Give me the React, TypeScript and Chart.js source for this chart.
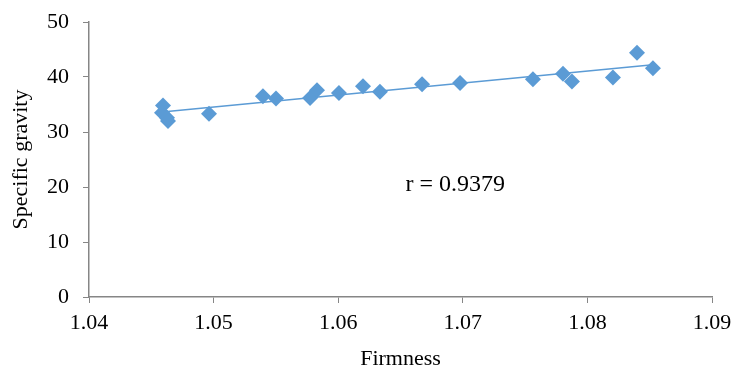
import React, { useEffect, useRef } from "react";
import { Chart, registerables } from "chart.js";

Chart.register(...registerables);

const firmness = [
  1.04594, 1.04586, 1.04626, 1.04634, 1.04963, 1.05396, 1.05501, 1.05774,
  1.0583, 1.06006, 1.06199, 1.06335, 1.06673, 1.06978, 1.07563, 1.07804,
  1.07876, 1.08205, 1.08398, 1.08526,
];
const specificGravity = [
  34.8, 33.5, 32.6, 32.0, 33.3, 36.5, 36.1, 36.2, 37.6, 37.1, 38.3, 37.3, 38.7,
  38.9, 39.6, 40.6, 39.2, 39.9, 44.4, 41.6,
];
const xTicks = [1.04, 1.05, 1.06, 1.07, 1.08, 1.09];
const yTicks = [0, 10, 20, 30, 40, 50];
const rLabel = "r = 0.9379";
const rLabelAt = { x: 1.0694, y: 20.4 };

const BLUE = "#5B9BD5";
const AXIS = "#868686";
const FONT = "'Liberation Serif', 'Times New Roman', serif";

function regression(xs: number[], ys: number[]) {
  const n = xs.length;
  const mx = xs.reduce((a, b) => a + b, 0) / n;
  const my = ys.reduce((a, b) => a + b, 0) / n;
  let sxy = 0;
  let sxx = 0;
  for (let i = 0; i < n; i++) {
    sxy += (xs[i] - mx) * (ys[i] - my);
    sxx += (xs[i] - mx) * (xs[i] - mx);
  }
  const b = sxy / sxx;
  return { a: my - b * mx, b };
}

export default function App() {
  const ref = useRef<HTMLCanvasElement>(null);
  useEffect(() => {
    document.body.style.margin = "0";
    const points = firmness.map((x, i) => ({ x, y: specificGravity[i] }));
    const { a, b } = regression(firmness, specificGravity);
    const minX = Math.min(...firmness);
    const maxX = Math.max(...firmness);
    const trend = [
      { x: minX, y: a + b * minX },
      { x: maxX, y: a + b * maxX },
    ];
    const textPlugin = {
      id: "rtext",
      afterDatasetsDraw(chart: any) {
        const ctx = chart.ctx;
        ctx.save();
        ctx.font = `24px ${FONT}`;
        ctx.fillStyle = "#000";
        ctx.textAlign = "center";
        ctx.textBaseline = "middle";
        ctx.fillText(
          rLabel,
          chart.scales.x.getPixelForValue(rLabelAt.x),
          chart.scales.y.getPixelForValue(rLabelAt.y)
        );
        ctx.restore();
      },
    };
    const chart = new Chart(ref.current!, {
      type: "scatter",
      data: {
        datasets: [
          {
            type: "line",
            data: trend,
            borderColor: BLUE,
            borderWidth: 1.5,
            pointRadius: 0,
            fill: false,
            order: 2,
          },
          {
            data: points,
            backgroundColor: BLUE,
            borderColor: BLUE,
            pointStyle: "rectRot",
            pointRadius: 8,
            borderWidth: 0,
            order: 1,
          },
        ],
      },
      options: {
        responsive: false,
        animation: false,
        layout: { padding: { top: 22, right: 25, left: 0, bottom: 0 } },
        plugins: { legend: { display: false }, tooltip: { enabled: false } },
        scales: {
          x: {
            type: "linear",
            min: 1.04,
            max: 1.09,
            afterBuildTicks: (s: any) => {
              s.ticks = xTicks.map((v) => ({ value: v }));
            },
            afterFit: (s: any) => {
              s.height = 75;
              s.paddingLeft = 0;
              s.paddingRight = 0;
            },
            grid: {
              display: true,
              drawOnChartArea: false,
              drawTicks: true,
              tickLength: 6,
              color: AXIS,
              lineWidth: 1,
            },
            border: { display: true, color: AXIS, width: 1.5 },
            ticks: {
              color: "#000",
              font: { family: FONT, size: 22 },
              padding: 7,
              maxRotation: 0,
              callback: (v: any) => Number(v).toFixed(2),
            },
            title: {
              display: true,
              text: "Firmness",
              color: "#000",
              font: { family: FONT, size: 22 },
              padding: { top: 11, bottom: 0 },
            },
          },
          y: {
            type: "linear",
            min: 0,
            max: 50,
            afterBuildTicks: (s: any) => {
              s.ticks = yTicks.map((v) => ({ value: v }));
            },
            afterFit: (s: any) => {
              s.width = 89;
              s.paddingTop = 0;
              s.paddingBottom = 0;
            },
            grid: {
              display: true,
              drawOnChartArea: false,
              drawTicks: true,
              tickLength: 6,
              color: AXIS,
              lineWidth: 1,
            },
            border: { display: true, color: AXIS, width: 1.5 },
            ticks: {
              color: "#000",
              font: { family: FONT, size: 22 },
              padding: 14,
            },
            title: {
              display: true,
              text: "Specific gravity",
              color: "#000",
              font: { family: FONT, size: 22 },
              padding: { top: 8, bottom: 0 },
            },
          },
        },
      },
      plugins: [textPlugin],
    });
    return () => chart.destroy();
  }, []);
  return (
    <div style={{ width: 737, height: 372 }}>
      <canvas ref={ref} width={737} height={372} />
    </div>
  );
}
